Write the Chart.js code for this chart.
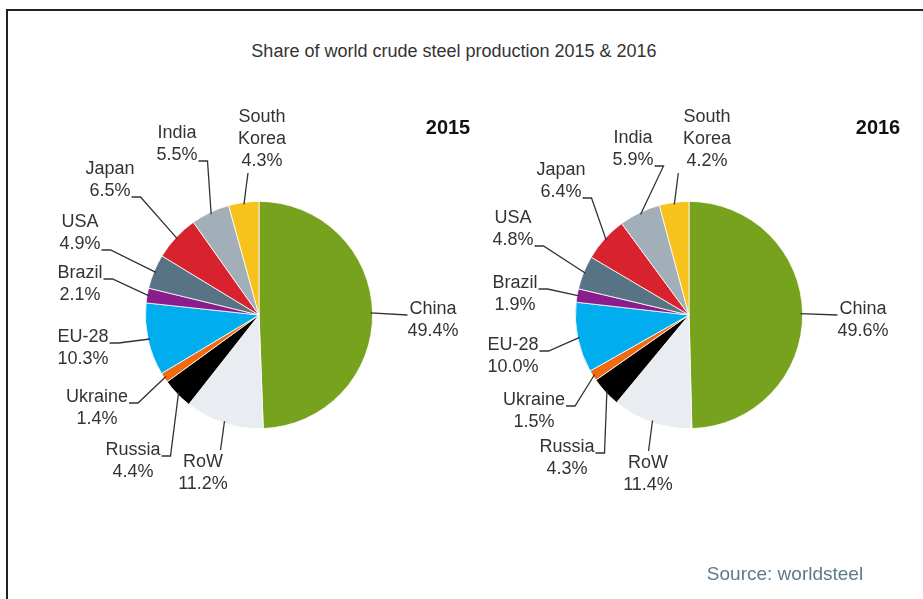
<!DOCTYPE html>
<html>
<head>
<meta charset="utf-8">
<script src="https://cdn.jsdelivr.net/npm/chart.js@4"></script>
<style>
  body { margin: 0; background: #fff; font-family: "Liberation Sans", Arial, sans-serif; }
  #wrap { position: relative; width: 923px; height: 599px; overflow: hidden; }
  #frame { position: absolute; left: 6px; top: 9px; width: 930px; height: 600px; border-left: 2px solid #222; border-top: 2px solid #222; }
  #title { position: absolute; left: 0; width: 908px; top: 41px; text-align: center; font-size: 18px; color: #333; }
  #source { position: absolute; left: 690px; width: 190px; top: 563px; text-align: center; font-size: 19px; color: #5d7a8d; }
  canvas { position: absolute; left: 0; top: 0; }
</style>
</head>
<body>
<div id="wrap">
  <div id="frame"></div>
  <div id="title">Share of world crude steel production 2015 &amp; 2016</div>
  <canvas id="pie2015" width="923" height="599"></canvas>
  <canvas id="pie2016" width="923" height="599"></canvas>
  <div id="source">Source: worldsteel</div>
</div>
<script>
const countries = ['China', 'RoW', 'Russia', 'Ukraine', 'EU-28', 'Brazil', 'USA', 'Japan', 'India', 'South Korea'];
const share2015 = [49.4, 11.2, 4.4, 1.4, 10.3, 2.1, 4.9, 6.5, 5.5, 4.3];
const share2016 = [49.6, 11.4, 4.3, 1.5, 10.0, 1.9, 4.8, 6.4, 5.9, 4.2];
const sliceColors = ['#76a21e', '#e9edf1', '#000000', '#f26a10', '#00aeef', '#8a1c8c', '#587383', '#d8232f', '#a2afb8', '#f7c21b'];

// label placement relative to pie centre: dx, dy of first text line, and where the leader leaves the text
const labels2015 = [
  { dx: 174, dy: -6, attach: 'left' },
  { dx: -56, dy: 147, attach: 'top' },
  { dx: -126, dy: 135, attach: 'right', line: 0 },
  { dx: -162, dy: 82, attach: 'right', line: 0 },
  { dx: -176, dy: 22, attach: 'right', line: 0 },
  { dx: -179, dy: -42, attach: 'right', line: 0 },
  { dx: -179, dy: -93, attach: 'right', line: 1 },
  { dx: -149, dy: -146, attach: 'right', line: 1 },
  { dx: -82, dy: -182, attach: 'right', line: 1 },
  { dx: 3, dy: -198, attach: 'bottom' }
];
const labels2016 = [
  { dx: 174, dy: -6, attach: 'left' },
  { dx: -41, dy: 148, attach: 'top' },
  { dx: -122, dy: 132, attach: 'right', line: 0 },
  { dx: -155, dy: 85, attach: 'right', line: 0 },
  { dx: -176, dy: 30, attach: 'right', line: 0 },
  { dx: -174, dy: -32, attach: 'right', line: 0 },
  { dx: -176, dy: -97, attach: 'right', line: 1 },
  { dx: -128, dy: -145, attach: 'right', line: 1 },
  { dx: -56, dy: -177, attach: 'right', line: 1 },
  { dx: 18, dy: -198, attach: 'bottom' }
];

function labelLines(name, value) {
  const parts = name === 'South Korea' ? ['South', 'Korea'] : [name];
  return parts.concat([value.toFixed(1) + '%']);
}

const leaderPlugin = {
  id: 'leaders',
  afterDatasetsDraw(chart, args, opts) {
    const ctx = chart.ctx;
    const arcs = chart.getDatasetMeta(0).data;
    const values = chart.data.datasets[0].data;
    const lineH = 22;
    ctx.save();
    ctx.font = '18px "Liberation Sans", Arial, sans-serif';
    ctx.textAlign = 'center';
    ctx.textBaseline = 'middle';
    arcs.forEach((arc, i) => {
      const p = opts.layout[i];
      const cx = arc.x, cy = arc.y;
      const tx = cx + p.dx, ty = cy + p.dy;
      const lines = labelLines(chart.data.labels[i], values[i]);
      ctx.fillStyle = '#333';
      lines.forEach((t, k) => ctx.fillText(t, tx, ty + k * lineH));

      const mid = (arc.startAngle + arc.endAngle) / 2;
      const r = arc.outerRadius - 2;
      const ex = cx + Math.cos(mid) * r, ey = cy + Math.sin(mid) * r;
      const pts = [];
      if (p.attach === 'right') {
        const w = ctx.measureText(lines[p.line]).width;
        const y = ty + p.line * lineH + 6;
        pts.push([tx + w / 2 + 1, y], [tx + w / 2 + 10, y]);
      } else if (p.attach === 'left') {
        const w = ctx.measureText(lines[0]).width;
        pts.push([tx - w / 2 - 2, ty + 6]);
      } else if (p.attach === 'top') {
        pts.push([ex - 4, ty - 12]);
      } else {
        pts.push([ex + 4, ty + (lines.length - 1) * lineH + 12]);
      }
      pts.push([ex, ey]);
      ctx.strokeStyle = '#333';
      ctx.lineWidth = 1.3;
      ctx.beginPath();
      ctx.moveTo(pts[0][0], pts[0][1]);
      pts.slice(1).forEach(q => ctx.lineTo(q[0], q[1]));
      ctx.stroke();
    });
    ctx.font = 'bold 20px "Liberation Sans", Arial, sans-serif';
    ctx.fillStyle = '#111';
    ctx.fillText(opts.year, arcs[0].x + opts.yearDx, arcs[0].y - 187);
    ctx.restore();
  }
};

function makePie(id, values, layout, year, padLeft, yearDx) {
  new Chart(document.getElementById(id), {
    type: 'pie',
    data: {
      labels: countries,
      datasets: [{
        data: values,
        backgroundColor: sliceColors,
        borderColor: '#ffffff',
        borderWidth: 0.8
      }]
    },
    options: {
      responsive: false,
      animation: false,
      layout: { padding: { left: padLeft, right: 923 - padLeft - 228, top: 201, bottom: 170 } },
      plugins: {
        legend: { display: false },
        tooltip: { enabled: false },
        leaders: { layout: layout, year: year, yearDx: yearDx }
      }
    },
    plugins: [leaderPlugin]
  });
}

makePie('pie2015', share2015, labels2015, '2015', 145, 189);
makePie('pie2016', share2016, labels2016, '2016', 575, 189);
</script>
</body>
</html>
